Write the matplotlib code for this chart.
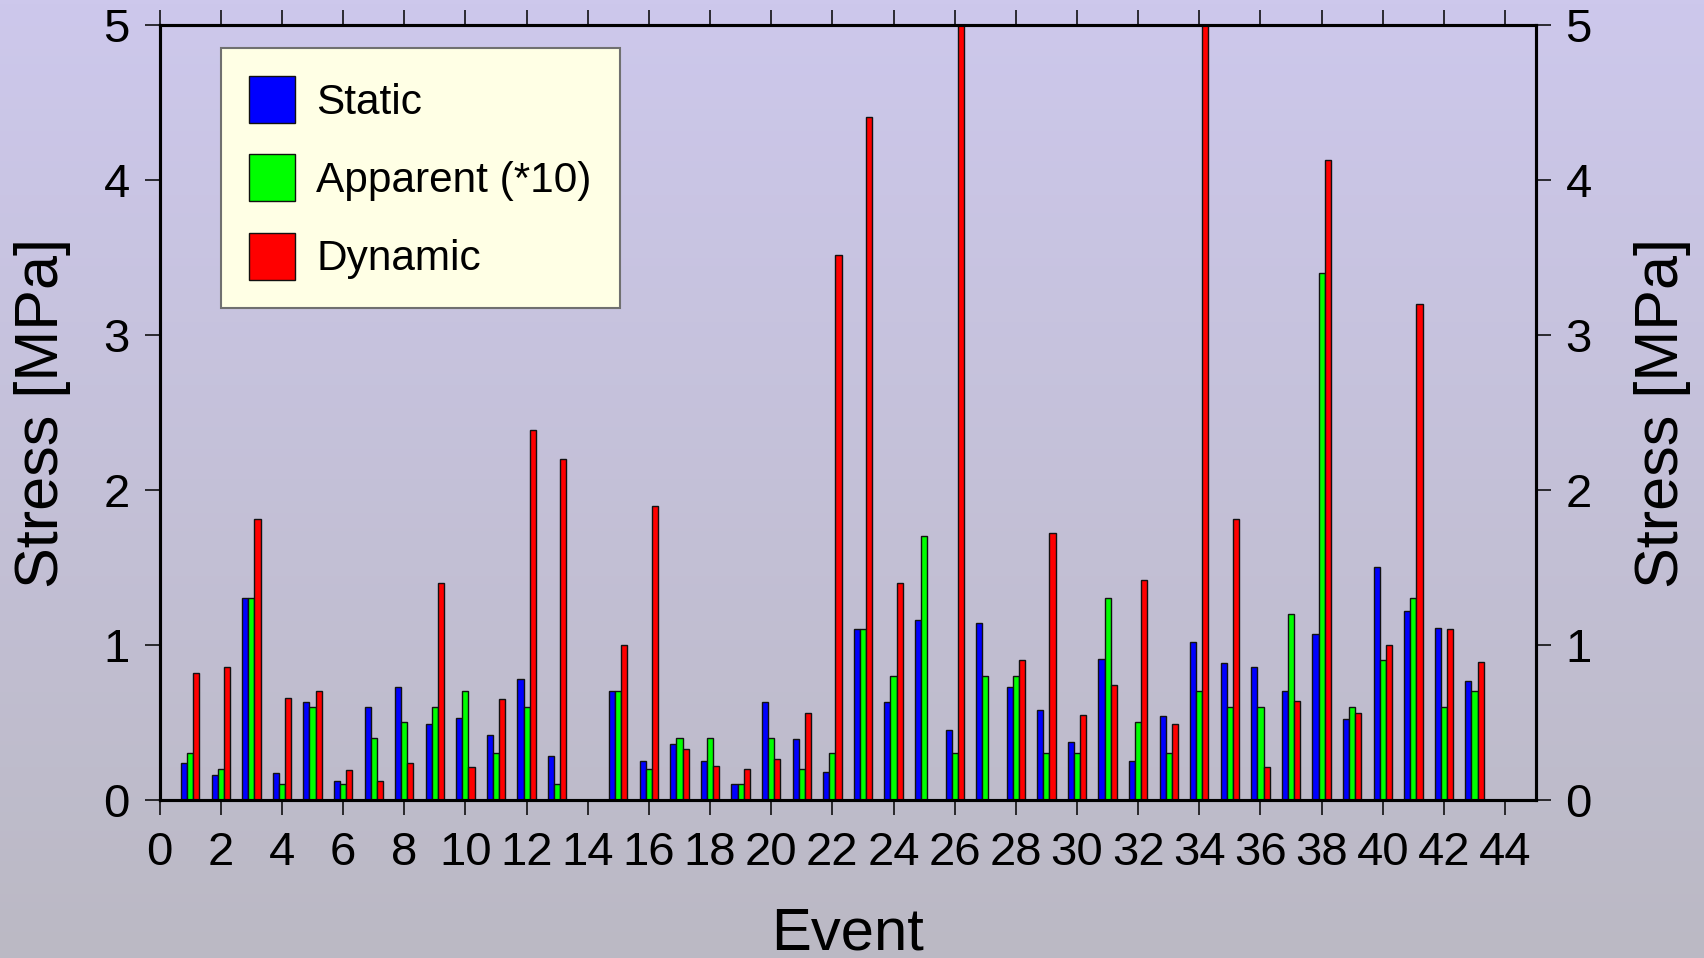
import numpy as np
import matplotlib
matplotlib.use('Agg')
import matplotlib.pyplot as plt

plt.rcParams['font.family'] = ['Liberation Sans', 'DejaVu Sans']

# Event numbers 1..43
events = np.arange(1, 44)

# Static stress drop [MPa]
static = [0.24, 0.16, 1.30, 0.17, 0.63, 0.12, 0.60, 0.73, 0.49, 0.53,
          0.42, 0.78, 0.28, 0.00, 0.70, 0.25, 0.36, 0.25, 0.10, 0.63,
          0.39, 0.18, 1.10, 0.63, 1.16, 0.45, 1.14, 0.73, 0.58, 0.37,
          0.91, 0.25, 0.54, 1.02, 0.88, 0.86, 0.70, 1.07, 0.52, 1.50,
          1.22, 1.11, 0.77]

# Apparent stress, multiplied by 10 [MPa]
apparent_x10 = [0.3, 0.2, 1.3, 0.1, 0.6, 0.1, 0.4, 0.5, 0.6, 0.7,
                0.3, 0.6, 0.1, 0.0, 0.7, 0.2, 0.4, 0.4, 0.1, 0.4,
                0.2, 0.3, 1.1, 0.8, 1.7, 0.3, 0.8, 0.8, 0.3, 0.3,
                1.3, 0.5, 0.3, 0.7, 0.6, 0.6, 1.2, 3.4, 0.6, 0.9,
                1.3, 0.6, 0.7]

# Dynamic stress drop [MPa] (events 26 and 34 run off the top of the chart)
dynamic = [0.82, 0.86, 1.81, 0.66, 0.70, 0.19, 0.12, 0.24, 1.40, 0.21,
           0.65, 2.39, 2.20, 0.00, 1.00, 1.90, 0.33, 0.22, 0.20, 0.26,
           0.56, 3.52, 4.41, 1.40, 0.00, 5.00, 0.00, 0.90, 1.72, 0.55,
           0.74, 1.42, 0.49, 5.00, 1.81, 0.21, 0.64, 4.13, 0.56, 1.00,
           3.20, 1.10, 0.89]

x_ticks = np.arange(0, 45, 2)
y_ticks = np.arange(0, 6, 1)

fig = plt.figure(figsize=(17.04, 9.58), dpi=100)

# gradient background (lavender at top -> grey at bottom)
top_col = np.array([205, 200, 236]) / 255.0
bot_col = np.array([187, 185, 196]) / 255.0
t = np.linspace(0, 1, 256)[:, None]
grad = (top_col[None, :] * (1 - t) + bot_col[None, :] * t)[:, None, :]
bg = fig.add_axes([0, 0, 1, 1], zorder=-1)
bg.imshow(grad, aspect='auto', extent=[0, 1, 0, 1])
bg.axis('off')

ax = fig.add_axes([0.0937, 0.1652, 0.8075, 0.8082])
ax.set_facecolor('none')

w = 0.2
ax.bar(events - w, static, width=w, color='#0000ff', edgecolor='#111111',
       linewidth=1.0, label='Static')
ax.bar(events, apparent_x10, width=w, color='#00ff00', edgecolor='#111111',
       linewidth=1.0, label='Apparent (*10)')
ax.bar(events + w, dynamic, width=w, color='#ff0000', edgecolor='#111111',
       linewidth=1.0, label='Dynamic')

ax.set_xlim(0, 45)
ax.set_ylim(0, 5)
ax.set_xticks(x_ticks)
ax.set_yticks(y_ticks)

for s in ax.spines.values():
    s.set_linewidth(2.2)

ax.tick_params(axis='x', direction='out', length=10.5, width=1.1,
               labelsize=34, pad=12, top=True)
ax.tick_params(axis='y', direction='out', length=10.5, width=1.1,
               labelsize=34, pad=11)

ax.set_xlabel('Event', fontsize=43, labelpad=23)
ax.set_ylabel('Stress [MPa]', fontsize=44, labelpad=23)

ax2 = ax.twinx()
ax2.set_ylim(0, 5)
ax2.set_yticks(y_ticks)
ax2.tick_params(axis='y', direction='out', length=10.5, width=1.1,
                labelsize=34, pad=11)
for s in ax2.spines.values():
    s.set_linewidth(2.2)
ax2.set_ylabel('Stress [MPa]', fontsize=44, labelpad=30)

leg = ax.legend(loc='upper left', bbox_to_anchor=(0.0443, 0.971),
                borderaxespad=0, fontsize=30.5, fancybox=False,
                framealpha=1, facecolor='#ffffe5', edgecolor='#707070',
                handlelength=1.1, handleheight=1.33, handletextpad=0.5,
                labelspacing=0.74, borderpad=0.66)
leg.get_frame().set_linewidth(1.5)
for p in leg.get_patches():
    p.set_linewidth(1.0)

fig.savefig('out.png', dpi=100)
